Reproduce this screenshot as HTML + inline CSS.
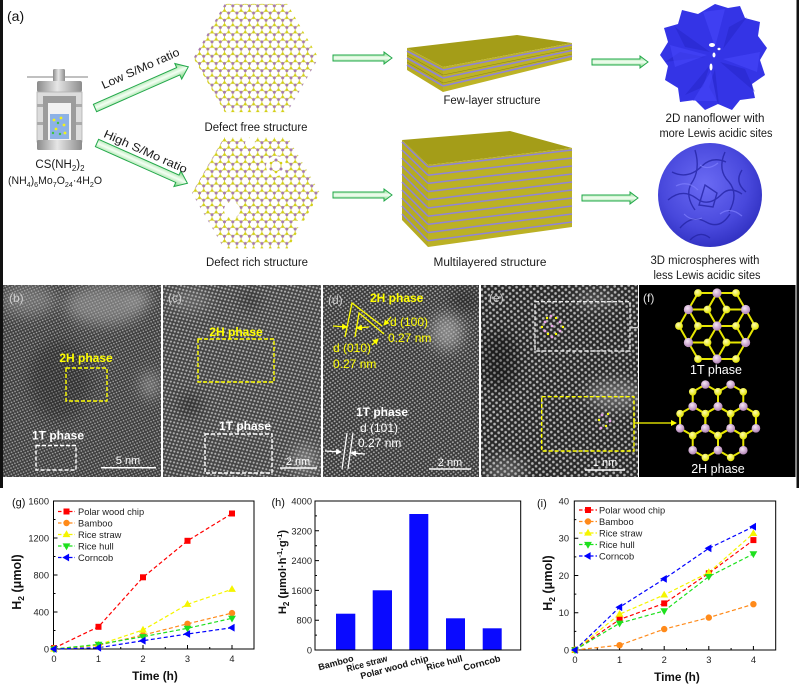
<!DOCTYPE html>
<html><head><meta charset="utf-8"><style>html,body{margin:0;padding:0;background:#fff}svg{display:block}</style></head>
<body>
<svg width="799" height="685" viewBox="0 0 799 685" xmlns="http://www.w3.org/2000/svg" xmlns:xlink="http://www.w3.org/1999/xlink" font-family="'Liberation Sans', Arial, sans-serif">
<defs>
  <pattern id="hc" width="8.314" height="14.4" patternUnits="userSpaceOnUse" x="0" y="1">
    <g stroke="#cdc83c" stroke-width="0.9">
      <line x1="4.157" y1="0" x2="4.157" y2="2.4"/>
      <line x1="4.157" y1="2.4" x2="0" y2="4.8"/>
      <line x1="4.157" y1="2.4" x2="8.314" y2="4.8"/>
      <line x1="0" y1="4.8" x2="0" y2="9.6"/>
      <line x1="8.314" y1="4.8" x2="8.314" y2="9.6"/>
      <line x1="0" y1="9.6" x2="4.157" y2="12"/>
      <line x1="8.314" y1="9.6" x2="4.157" y2="12"/>
      <line x1="4.157" y1="12" x2="4.157" y2="14.4"/>
    </g>
    <g fill="#d4d014"><circle cx="4.157" cy="2.4" r="1.3"/><circle cx="0" cy="9.6" r="1.3"/><circle cx="8.314" cy="9.6" r="1.3"/></g>
    <g fill="#a57aae"><circle cx="0" cy="4.8" r="1.5"/><circle cx="8.314" cy="4.8" r="1.5"/><circle cx="4.157" cy="12" r="1.5"/></g>
  </pattern>
  <linearGradient id="arr" x1="0" y1="0" x2="0" y2="1">
    <stop offset="0" stop-color="#7bd47e"/><stop offset="0.5" stop-color="#f4fff4"/><stop offset="1" stop-color="#6fcf73"/>
  </linearGradient>
  <linearGradient id="gm" x1="0" y1="0" x2="1" y2="0">
    <stop offset="0" stop-color="#8a8a8a"/><stop offset="0.45" stop-color="#e6e6e6"/><stop offset="1" stop-color="#8c8c8c"/>
  </linearGradient>
  <radialGradient id="sph" cx="0.45" cy="0.4" r="0.6">
    <stop offset="0" stop-color="#6b6bf4"/><stop offset="0.7" stop-color="#4848dc"/><stop offset="1" stop-color="#3333c4"/>
  </radialGradient>
  <radialGradient id="moG" cx="0.4" cy="0.35" r="0.65">
    <stop offset="0" stop-color="#f6e6f6"/><stop offset="1" stop-color="#b486b8"/>
  </radialGradient>
  <radialGradient id="sG" cx="0.4" cy="0.35" r="0.65">
    <stop offset="0" stop-color="#ffffb0"/><stop offset="1" stop-color="#e2e200"/>
  </radialGradient>
  <pattern id="pb" width="4.4" height="3.8" patternUnits="userSpaceOnUse" patternTransform="rotate(18)">
    <rect width="4.4" height="3.8" fill="#3e3e3e"/><circle cx="1.1" cy="0.95" r="0.85" fill="#a6a6a6"/><circle cx="3.3" cy="2.85" r="0.85" fill="#a6a6a6"/>
  </pattern>
  <pattern id="pc" width="5.4" height="4.7" patternUnits="userSpaceOnUse" patternTransform="rotate(-28)">
    <rect width="5.4" height="4.7" fill="#454545"/><circle cx="1.35" cy="1.2" r="1.05" fill="#b2b2b2"/><circle cx="4.05" cy="3.5" r="1.05" fill="#b2b2b2"/>
  </pattern>
  <pattern id="pd" width="4.8" height="4.2" patternUnits="userSpaceOnUse" patternTransform="rotate(8)">
    <rect width="4.8" height="4.2" fill="#3a3a3a"/><circle cx="1.2" cy="1.05" r="0.95" fill="#aaaaaa"/><circle cx="3.6" cy="3.15" r="0.95" fill="#aaaaaa"/>
  </pattern>
  <pattern id="pe" width="7" height="6" patternUnits="userSpaceOnUse" patternTransform="rotate(-4)">
    <rect width="7" height="6" fill="#2a2a2a"/><circle cx="1.75" cy="1.5" r="1.35" fill="#b4b4b4"/><circle cx="5.25" cy="4.5" r="1.35" fill="#b4b4b4"/>
  </pattern>
  <filter id="bl" x="-50%" y="-50%" width="200%" height="200%"><feGaussianBlur stdDeviation="7"/></filter>
  <clipPath id="cb"><rect x="3" y="285" width="158" height="192"/></clipPath>
  <clipPath id="cc"><rect x="163" y="285" width="158" height="192"/></clipPath>
  <clipPath id="cd"><rect x="323" y="285" width="156" height="192"/></clipPath>
  <clipPath id="ce"><rect x="481" y="285" width="157" height="192"/></clipPath>
  <marker id="ahy" markerWidth="6" markerHeight="6" refX="5" refY="3" orient="auto" markerUnits="userSpaceOnUse"><path d="M0,0 L6,3 L0,6Z" fill="#ffff00"/></marker>
  <marker id="ahw" markerWidth="6" markerHeight="6" refX="5" refY="3" orient="auto" markerUnits="userSpaceOnUse"><path d="M0,0 L6,3 L0,6Z" fill="#ffffff"/></marker>
  <marker id="ahg" markerWidth="7" markerHeight="7" refX="6" refY="3.5" orient="auto" markerUnits="userSpaceOnUse"><path d="M0,0 L7,3.5 L0,7Z" fill="#d0d0d0"/></marker>
  <path id="mUp" d="M0,-4.2 L3.9,2.6 L-3.9,2.6Z"/>
  <path id="mDn" d="M0,4.2 L3.9,-2.6 L-3.9,-2.6Z"/>
  <path id="mLf" d="M-4.2,0 L2.6,-3.9 L2.6,3.9Z"/>
  <rect id="mSq" x="-3" y="-3" width="6" height="6"/>
  <circle id="mCi" r="3.2"/>
  <polygon id="hxl" points="0,-14.6 12.64,-7.3 12.64,7.3 0,14.6 -12.64,7.3 -12.64,-7.3" fill="none" stroke="#e6e600" stroke-width="2"/>
  <g id="hxa">
    <circle cx="0" cy="-14.6" r="4.3" fill="url(#moG)"/><circle cx="12.64" cy="7.3" r="4.3" fill="url(#moG)"/><circle cx="-12.64" cy="7.3" r="4.3" fill="url(#moG)"/>
    <circle cx="12.64" cy="-7.3" r="3.8" fill="url(#sG)"/><circle cx="0" cy="14.6" r="3.8" fill="url(#sG)"/><circle cx="-12.64" cy="-7.3" r="3.8" fill="url(#sG)"/>
  </g>
</defs>

<rect width="799" height="685" fill="#fff"/>
<rect x="0" y="0" width="3" height="488" fill="#111"/>
<rect x="796.5" y="0" width="2.5" height="488" fill="#111"/>

<!-- ===== (a) ===== -->
<text x="7" y="21" font-size="14" fill="#111">(a)</text>

<!-- autoclave -->
<line x1="27" y1="77" x2="88" y2="77" stroke="#9a9a9a" stroke-width="1.3"/>
<rect x="53" y="69" width="12" height="13" rx="1.5" fill="url(#gm)"/>
<rect x="37" y="81" width="45" height="11" rx="2" fill="url(#gm)"/>
<rect x="37" y="92" width="45" height="50" fill="#dcdcdc" stroke="#b0b0b0" stroke-width="0.8"/>
<rect x="43" y="96" width="33" height="44" fill="#9c9c9c"/>
<rect x="37" y="104" width="6" height="3" fill="#aaa"/><rect x="76" y="104" width="6" height="3" fill="#aaa"/>
<rect x="37" y="122" width="6" height="3" fill="#aaa"/><rect x="76" y="122" width="6" height="3" fill="#aaa"/>
<rect x="48" y="103" width="23" height="37" fill="#f2f2f2"/>
<rect x="50" y="114" width="19" height="25" fill="#8db2e6"/>
<g fill="#f2f21a"><circle cx="54" cy="120" r="1.4"/><circle cx="61" cy="118" r="1.4"/><circle cx="64" cy="125" r="1.4"/><circle cx="56" cy="129" r="1.4"/><circle cx="65" cy="133" r="1.4"/></g>
<g fill="#3ec43e"><circle cx="58" cy="123" r="1.2"/><circle cx="53" cy="133" r="1.2"/><circle cx="60" cy="134" r="1.2"/></g>
<rect x="37" y="140" width="45" height="10" rx="1.5" fill="url(#gm)"/>
<text x="60" y="168" font-size="11.5" fill="#1a1a1a" text-anchor="middle">CS(NH<tspan font-size="8" dy="3">2</tspan><tspan dy="-3">)</tspan><tspan font-size="8" dy="3">2</tspan></text>
<text x="55" y="184" font-size="11" fill="#1a1a1a" text-anchor="middle" textLength="94" lengthAdjust="spacingAndGlyphs">(NH<tspan font-size="7.5" dy="3">4</tspan><tspan dy="-3">)</tspan><tspan font-size="7.5" dy="3">6</tspan><tspan dy="-3">Mo</tspan><tspan font-size="7.5" dy="3">7</tspan><tspan dy="-3">O</tspan><tspan font-size="7.5" dy="3">24</tspan><tspan dy="-3">·4H</tspan><tspan font-size="7.5" dy="3">2</tspan><tspan dy="-3">O</tspan></text>

<!-- big arrows -->
<g transform="translate(95,108) rotate(-23.8)">
  <path d="M0,-4 L91,-4 L91,-8.5 L102,0 L91,8.5 L91,4 L0,4 Z" fill="url(#arr)" stroke="#22a84a" stroke-width="1"/>
</g>
<g transform="translate(97,143) rotate(24)">
  <path d="M0,-4 L88,-4 L88,-8.5 L99,0 L88,8.5 L88,4 L0,4 Z" fill="url(#arr)" stroke="#22a84a" stroke-width="1"/>
</g>
<text transform="translate(142,72) rotate(-24)" font-size="11.5" fill="#1a1a1a" text-anchor="middle" textLength="84" lengthAdjust="spacingAndGlyphs">Low S/Mo ratio</text>
<text transform="translate(144,155) rotate(24)" font-size="11.5" fill="#1a1a1a" text-anchor="middle" textLength="90" lengthAdjust="spacingAndGlyphs">High S/Mo ratio</text>

<!-- hex lattices -->
<polygon points="318.5,58 287.25,3.9 224.75,3.9 193.5,58 224.75,112.1 287.25,112.1" fill="url(#hc)"/>
<text x="256" y="131" font-size="11.5" fill="#1a1a1a" text-anchor="middle" textLength="103" lengthAdjust="spacingAndGlyphs">Defect free structure</text>
<polygon points="320,193 288,137.6 224,137.6 192,193 224,248.4 288,248.4" fill="url(#hc)"/>
<g fill="#fff">
  <circle cx="276" cy="166" r="10"/><circle cx="232" cy="210" r="8"/><circle cx="250" cy="143" r="5"/><circle cx="300" cy="224" r="4"/>
</g>
<g fill="none" stroke="#cdc83c" stroke-width="0.9"><polygon points="276,160 281,163 281,169 276,172 271,169 271,163"/></g>
<g fill="#a57aae"><circle cx="276" cy="160" r="1.5"/><circle cx="281" cy="169" r="1.5"/><circle cx="271" cy="169" r="1.5"/></g>
<g fill="#d4d014"><circle cx="281" cy="163" r="1.3"/><circle cx="276" cy="172" r="1.3"/><circle cx="271" cy="163" r="1.3"/></g>
<text x="257" y="266" font-size="11.5" fill="#1a1a1a" text-anchor="middle" textLength="102" lengthAdjust="spacingAndGlyphs">Defect rich structure</text>

<!-- small arrows -->
<g fill="url(#arr)" stroke="#22a84a" stroke-width="1">
  <path d="M333,55 L384,55 L384,52 L392,58 L384,64 L384,61 L333,61 Z"/>
  <path d="M333,192 L384,192 L384,189 L392,195 L384,201 L384,198 L333,198 Z"/>
  <path d="M592,59 L640,59 L640,56 L648,62 L640,68 L640,65 L592,65 Z"/>
  <path d="M582,195 L630,195 L630,192 L638,198 L630,204 L630,201 L582,201 Z"/>
</g>

<!-- few-layer slab -->
<polygon points="407,48 517,35 572,43 443,67" fill="#a49d18"/>
<polygon points="407,48 443,67 443,92 407,70" fill="#b7ad22"/>
<polygon points="443,67 572,43 572,60 443,92" fill="#bdb326"/>
<g stroke="#8f84d8" stroke-width="1.6">
  <line x1="407" y1="51" x2="443" y2="70"/><line x1="443" y1="70" x2="572" y2="45"/>
  <line x1="407" y1="58" x2="443" y2="78"/><line x1="443" y1="78" x2="572" y2="50.5"/>
  <line x1="407" y1="65" x2="443" y2="86"/><line x1="443" y1="86" x2="572" y2="56"/>
</g>
<g stroke="#6e6a10" stroke-width="0.6" opacity="0.6">
  <line x1="407" y1="55" x2="443" y2="75"/><line x1="443" y1="75" x2="572" y2="48.5"/>
  <line x1="407" y1="62" x2="443" y2="83"/><line x1="443" y1="83" x2="572" y2="54"/>
</g>
<text x="492" y="104" font-size="11.5" fill="#1a1a1a" text-anchor="middle" textLength="97" lengthAdjust="spacingAndGlyphs">Few-layer structure</text>

<!-- multilayer slab -->
<polygon points="402,140 510,131 572,148 428,165" fill="#a49d18"/>
<polygon points="402,140 428,165 428,247 402,220" fill="#b5ab22"/>
<polygon points="428,165 572,148 572,227 428,247" fill="#bbb125"/>
<g stroke="#8f84d8" stroke-width="1.5">
  <line x1="402" y1="142" x2="428" y2="167"/><line x1="428" y1="167" x2="572" y2="150"/>
  <line x1="402" y1="150" x2="428" y2="175.2"/><line x1="428" y1="175.2" x2="572" y2="158"/>
  <line x1="402" y1="158" x2="428" y2="183.4"/><line x1="428" y1="183.4" x2="572" y2="166"/>
  <line x1="402" y1="166" x2="428" y2="191.6"/><line x1="428" y1="191.6" x2="572" y2="174"/>
  <line x1="402" y1="174" x2="428" y2="199.8"/><line x1="428" y1="199.8" x2="572" y2="182"/>
  <line x1="402" y1="182" x2="428" y2="208"/><line x1="428" y1="208" x2="572" y2="190"/>
  <line x1="402" y1="190" x2="428" y2="216.2"/><line x1="428" y1="216.2" x2="572" y2="198"/>
  <line x1="402" y1="198" x2="428" y2="224.4"/><line x1="428" y1="224.4" x2="572" y2="206"/>
  <line x1="402" y1="206" x2="428" y2="232.6"/><line x1="428" y1="232.6" x2="572" y2="214"/>
  <line x1="402" y1="214" x2="428" y2="240.8"/><line x1="428" y1="240.8" x2="572" y2="222"/>
</g>
<text x="490" y="266" font-size="11.5" fill="#1a1a1a" text-anchor="middle" textLength="113" lengthAdjust="spacingAndGlyphs">Multilayered structure</text>

<!-- nanoflower -->
<g transform="translate(715,57)">
  <path d="M0,-53 L13,-49 L25,-51 L30,-39 L45,-35 L43,-21 L52,-9 L45,3 L50,18 L37,27 L40,41 L25,43 L17,53 L3,47 L-10,53 L-20,43 L-35,45 L-37,31 L-50,23 L-47,9 L-55,-2 L-47,-15 L-51,-29 L-37,-33 L-33,-47 L-17,-43 Z" fill="#3434e6"/>
  <g fill="#2424c4" opacity="0.45">
    <path d="M-5,-5 L-40,-30 L-30,-10 Z"/>
    <path d="M5,5 L40,35 L30,12 Z"/>
    <path d="M-5,8 L-30,38 L-12,30 Z"/>
    <path d="M8,-8 L32,-40 L14,-30 Z"/>
    <path d="M0,12 L4,48 L-6,30 Z"/>
    <path d="M-10,0 L-50,5 L-35,-5 Z"/>
  </g>
  <g fill="#4a4aff" opacity="0.5">
    <path d="M-8,-2 L-45,-12 L-40,10 Z"/>
    <path d="M8,2 L45,-5 L42,15 Z"/>
    <path d="M0,-10 L-12,-45 L10,-48 Z"/>
    <path d="M-4,14 L-22,44 L2,44 Z"/>
  </g>
  <g fill="#ffffff">
    <ellipse cx="-3" cy="-12" rx="3" ry="2"/><ellipse cx="-1" cy="-2" rx="1.5" ry="2.5"/><ellipse cx="-4" cy="10" rx="1.5" ry="3.5"/><ellipse cx="4" cy="-8" rx="1.5" ry="1.2"/>
  </g>
</g>
<text x="715" y="122" font-size="11.5" fill="#1a1a1a" text-anchor="middle" textLength="99" lengthAdjust="spacingAndGlyphs">2D nanoflower with</text>
<text x="716" y="137" font-size="11.5" fill="#1a1a1a" text-anchor="middle" textLength="113" lengthAdjust="spacingAndGlyphs">more Lewis acidic sites</text>

<!-- microsphere -->
<circle cx="710" cy="195" r="52" fill="url(#sph)"/>
<g fill="none" stroke="#2525a6" stroke-width="1.4" opacity="0.8">
  <path d="M672,172 q16,8 30,-6 q10,-10 24,-4"/>
  <path d="M668,200 q14,-12 28,-2 q12,10 26,-4 q8,-8 20,0"/>
  <path d="M680,228 q12,-14 26,-6 q14,8 24,-8"/>
  <path d="M695,150 q6,20 -4,34 q-6,12 4,26"/>
  <path d="M725,152 q-8,18 4,30 q10,12 0,30"/>
  <path d="M690,240 q10,-10 20,-2"/>
  <path d="M742,170 q-8,12 4,22"/>
  <path d="M705,185 l12,8 l-4,14 l-14,-2 z"/>
</g>
<g fill="none" stroke="#8080ff" stroke-width="1.2" opacity="0.7">
  <path d="M676,186 q12,-6 22,4"/><path d="M720,214 q10,-8 22,2"/><path d="M700,165 q8,6 18,-2"/><path d="M684,214 q8,8 18,4"/>
</g>
<text x="705" y="264" font-size="11.5" fill="#1a1a1a" text-anchor="middle" textLength="109" lengthAdjust="spacingAndGlyphs">3D microspheres with</text>
<text x="707" y="279" font-size="11.5" fill="#1a1a1a" text-anchor="middle" textLength="107" lengthAdjust="spacingAndGlyphs">less Lewis acidic sites</text>

<!-- ===== TEM row ===== -->
<!-- (b) -->
<g clip-path="url(#cb)">
  <rect x="3" y="285" width="158" height="192" fill="url(#pb)"/>
  <g filter="url(#bl)" fill="#a8a8a8">
    <ellipse cx="28" cy="300" rx="28" ry="16" opacity="0.45"/>
    <ellipse cx="105" cy="305" rx="40" ry="20" opacity="0.55"/>
    <ellipse cx="150" cy="385" rx="9" ry="13" opacity="0.6"/>
    <ellipse cx="140" cy="298" rx="12" ry="10" opacity="0.5"/>
  </g>
  <g filter="url(#bl)" fill="#000"><ellipse cx="60" cy="380" rx="30" ry="40" opacity="0.2"/></g>
</g>
<text x="9" y="302" font-size="12" fill="#cfcfcf">(b)</text>
<text x="86" y="362" font-size="12" font-weight="bold" fill="#ffff00" text-anchor="middle">2H phase</text>
<rect x="66" y="368" width="41" height="33" fill="none" stroke="#ffff00" stroke-width="1.4" stroke-dasharray="4 2"/>
<text x="58" y="439.5" font-size="12" font-weight="bold" fill="#fff" text-anchor="middle">1T phase</text>
<rect x="36" y="445.5" width="40" height="24.5" fill="none" stroke="#fff" stroke-width="1.4" stroke-dasharray="4 2"/>
<line x1="101" y1="467.7" x2="156" y2="467.7" stroke="#fff" stroke-width="1.5"/>
<text x="128" y="464" font-size="11" fill="#fff" text-anchor="middle">5 nm</text>

<!-- (c) -->
<g clip-path="url(#cc)">
  <rect x="163" y="285" width="158" height="192" fill="url(#pc)"/>
  <g filter="url(#bl)" fill="#b0b0b0">
    <ellipse cx="305" cy="460" rx="12" ry="14" opacity="0.5"/>
    <ellipse cx="190" cy="300" rx="20" ry="10" opacity="0.3"/>
  </g>
  <g filter="url(#bl)" fill="#000"><ellipse cx="190" cy="405" rx="10" ry="10" opacity="0.35"/><ellipse cx="250" cy="300" rx="8" ry="8" opacity="0.3"/></g>
</g>
<text x="168" y="302" font-size="12" fill="#cfcfcf">(c)</text>
<text x="236" y="336" font-size="12" font-weight="bold" fill="#ffff00" text-anchor="middle">2H phase</text>
<rect x="198" y="339" width="76" height="43" fill="none" stroke="#ffff00" stroke-width="1.4" stroke-dasharray="4 2"/>
<text x="245" y="430" font-size="12" font-weight="bold" fill="#fff" text-anchor="middle">1T phase</text>
<rect x="205" y="434" width="67" height="39" fill="none" stroke="#fff" stroke-width="1.4" stroke-dasharray="4 2"/>
<line x1="280" y1="468" x2="317" y2="468" stroke="#fff" stroke-width="1.5"/>
<text x="298" y="465" font-size="11" fill="#fff" text-anchor="middle">2 nm</text>

<!-- (d) -->
<g clip-path="url(#cd)">
  <rect x="323" y="285" width="156" height="192" fill="url(#pd)"/>
  <g filter="url(#bl)" fill="#b8b8b8">
    <ellipse cx="447" cy="332" rx="16" ry="18" opacity="0.6"/>
  </g>
  <g filter="url(#bl)" fill="#000"><ellipse cx="465" cy="300" rx="15" ry="12" opacity="0.25"/></g>
</g>
<text x="328" y="304" font-size="12" fill="#cfcfcf">(d)</text>
<text x="370" y="302" font-size="12" font-weight="bold" fill="#ffff00">2H phase</text>
<g stroke="#ffff00" stroke-width="1.3" fill="none">
  <polyline points="345,337 352,303 382,326"/>
  <polyline points="355,337 359,313 384,334"/>
  <line x1="333" y1="326" x2="347" y2="327" marker-end="url(#ahy)"/>
  <line x1="369" y1="327" x2="357" y2="328" marker-end="url(#ahy)"/>
  <line x1="391" y1="317" x2="384" y2="325" marker-end="url(#ahy)"/>
  <line x1="372" y1="345" x2="378" y2="339" marker-end="url(#ahy)"/>
</g>
<text x="333" y="352" font-size="12" fill="#ffff00">d (010)</text>
<text x="333" y="368" font-size="12" fill="#ffff00">0.27 nm</text>
<text x="390" y="326" font-size="12" fill="#ffff00">d (100)</text>
<text x="388" y="342" font-size="12" fill="#ffff00">0.27 nm</text>
<text x="356" y="416" font-size="12" font-weight="bold" fill="#fff">1T phase</text>
<text x="360" y="432" font-size="12" fill="#fff">d (101)</text>
<text x="358" y="447" font-size="12" fill="#fff">0.27 nm</text>
<g stroke="#fff" stroke-width="1.2" fill="none">
  <line x1="342" y1="469" x2="347" y2="433"/>
  <line x1="348" y1="469" x2="353" y2="433"/>
  <line x1="325" y1="451" x2="341" y2="452" marker-end="url(#ahw)"/>
  <line x1="365" y1="454" x2="351" y2="453" marker-end="url(#ahw)"/>
</g>
<line x1="429" y1="469" x2="471" y2="469" stroke="#fff" stroke-width="1.5"/>
<text x="450" y="466" font-size="11" fill="#fff" text-anchor="middle">2 nm</text>

<!-- (e) -->
<g clip-path="url(#ce)">
  <rect x="481" y="285" width="157" height="192" fill="url(#pe)"/>
  <g filter="url(#bl)" fill="#b0b0b0">
    <ellipse cx="615" cy="395" rx="28" ry="14" opacity="0.45"/>
    <ellipse cx="505" cy="470" rx="20" ry="12" opacity="0.35"/>
    <ellipse cx="595" cy="300" rx="20" ry="8" opacity="0.3"/>
  </g>
  <g filter="url(#bl)" fill="#000"><ellipse cx="500" cy="360" rx="18" ry="30" opacity="0.3"/></g>
</g>
<text x="489" y="302" font-size="12" fill="#cfcfcf">(e)</text>
<rect x="535" y="301.7" width="95" height="49.3" fill="none" stroke="#e8e8e8" stroke-width="1.4" stroke-dasharray="4 2"/>
<g fill="#e6a4e6"><circle cx="551" cy="316" r="1.4"/><circle cx="545" cy="322" r="1.4"/><circle cx="545" cy="331" r="1.4"/><circle cx="552" cy="337" r="1.4"/><circle cx="560" cy="331" r="1.4"/><circle cx="560" cy="322" r="1.4"/><circle cx="552" cy="326" r="1.4"/></g>
<g fill="#ffff00"><circle cx="547" cy="318" r="1.2"/><circle cx="556" cy="318" r="1.2"/><circle cx="542" cy="327" r="1.2"/><circle cx="563" cy="327" r="1.2"/><circle cx="548" cy="334" r="1.2"/><circle cx="556" cy="334" r="1.2"/></g>
<rect x="541.7" y="396.7" width="92.3" height="54.3" fill="none" stroke="#ffff00" stroke-width="1.4" stroke-dasharray="4 2"/>
<g fill="#e6a4e6"><circle cx="602" cy="415" r="1.4"/><circle cx="610" cy="421" r="1.4"/><circle cx="601" cy="428" r="1.4"/></g>
<g fill="#ffff00"><circle cx="599" cy="420" r="1.2"/><circle cx="608" cy="414" r="1.2"/><circle cx="606" cy="426" r="1.2"/></g>
<line x1="585" y1="470" x2="625" y2="470" stroke="#fff" stroke-width="1.5"/>
<text x="605" y="466" font-size="11" fill="#fff" text-anchor="middle">1 nm</text>
<line x1="630" y1="327.7" x2="672" y2="327.7" stroke="#d0d0d0" stroke-width="1.3" marker-end="url(#ahg)"/>

<!-- (f) -->
<rect x="639" y="285" width="156.5" height="192" fill="#000"/>
<line x1="634" y1="423" x2="676" y2="423" stroke="#ffff00" stroke-width="1.3" marker-end="url(#ahy)"/>
<line x1="634" y1="418" x2="634" y2="428" stroke="#ffff00" stroke-width="1.3"/>
<text x="643" y="302" font-size="12" fill="#e0e0e0">(f)</text>
<!-- 1T -->
<g stroke="#e6e600" stroke-width="2">
  <line x1="717" y1="326" x2="736" y2="326"/><line x1="717" y1="326" x2="698" y2="326"/>
  <line x1="717" y1="326" x2="726.5" y2="342.5"/><line x1="717" y1="326" x2="707.5" y2="342.5"/>
  <line x1="717" y1="326" x2="726.5" y2="309.5"/><line x1="717" y1="326" x2="707.5" y2="309.5"/>
  <line x1="717" y1="293" x2="736" y2="293"/><line x1="717" y1="293" x2="698" y2="293"/>
  <line x1="717" y1="293" x2="726.5" y2="309.5"/><line x1="717" y1="293" x2="707.5" y2="309.5"/>
  <line x1="717" y1="359" x2="736" y2="359"/><line x1="717" y1="359" x2="698" y2="359"/>
  <line x1="717" y1="359" x2="726.5" y2="342.5"/><line x1="717" y1="359" x2="707.5" y2="342.5"/>
  <line x1="688.4" y1="309.5" x2="707.5" y2="309.5"/><line x1="688.4" y1="309.5" x2="698" y2="293"/>
  <line x1="688.4" y1="309.5" x2="698" y2="326"/><line x1="688.4" y1="309.5" x2="679" y2="326"/>
  <line x1="745.6" y1="309.5" x2="726.5" y2="309.5"/><line x1="745.6" y1="309.5" x2="736" y2="293"/>
  <line x1="745.6" y1="309.5" x2="736" y2="326"/><line x1="745.6" y1="309.5" x2="755" y2="326"/>
  <line x1="688.4" y1="342.5" x2="707.5" y2="342.5"/><line x1="688.4" y1="342.5" x2="698" y2="359"/>
  <line x1="688.4" y1="342.5" x2="698" y2="326"/><line x1="688.4" y1="342.5" x2="679" y2="326"/>
  <line x1="745.6" y1="342.5" x2="726.5" y2="342.5"/><line x1="745.6" y1="342.5" x2="736" y2="359"/>
  <line x1="745.6" y1="342.5" x2="736" y2="326"/><line x1="745.6" y1="342.5" x2="755" y2="326"/>
</g>
<g fill="url(#sG)">
  <circle cx="736" cy="326" r="3.9"/><circle cx="698" cy="326" r="3.9"/><circle cx="726.5" cy="342.5" r="3.9"/><circle cx="707.5" cy="342.5" r="3.9"/>
  <circle cx="726.5" cy="309.5" r="3.9"/><circle cx="707.5" cy="309.5" r="3.9"/><circle cx="736" cy="293" r="3.9"/><circle cx="698" cy="293" r="3.9"/>
  <circle cx="736" cy="359" r="3.9"/><circle cx="698" cy="359" r="3.9"/><circle cx="755" cy="326" r="3.9"/><circle cx="679" cy="326" r="3.9"/>
</g>
<g fill="url(#moG)">
  <circle cx="717" cy="326" r="4.6"/><circle cx="717" cy="293" r="4.6"/><circle cx="717" cy="359" r="4.6"/>
  <circle cx="688.4" cy="309.5" r="4.6"/><circle cx="745.6" cy="309.5" r="4.6"/><circle cx="688.4" cy="342.5" r="4.6"/><circle cx="745.6" cy="342.5" r="4.6"/>
</g>
<text x="716" y="374" font-size="12.5" fill="#fff" text-anchor="middle">1T phase</text>
<!-- 2H -->
<g transform="translate(718,421)">
  <use xlink:href="#hxl" x="0" y="0"/><use xlink:href="#hxl" x="25.3" y="0"/><use xlink:href="#hxl" x="-25.3" y="0"/>
  <use xlink:href="#hxl" x="12.64" y="-21.9"/><use xlink:href="#hxl" x="-12.64" y="-21.9"/>
  <use xlink:href="#hxl" x="12.64" y="21.9"/><use xlink:href="#hxl" x="-12.64" y="21.9"/>
  <use xlink:href="#hxa" x="0" y="0"/><use xlink:href="#hxa" x="25.3" y="0"/><use xlink:href="#hxa" x="-25.3" y="0"/>
  <use xlink:href="#hxa" x="12.64" y="-21.9"/><use xlink:href="#hxa" x="-12.64" y="-21.9"/>
  <use xlink:href="#hxa" x="12.64" y="21.9"/><use xlink:href="#hxa" x="-12.64" y="21.9"/>
</g>
<text x="718" y="473" font-size="12.5" fill="#fff" text-anchor="middle">2H phase</text>

<!-- ===== (g) ===== -->
<g font-size="9.3" fill="#222">
  <text x="12" y="506" font-size="11" fill="#111">(g)</text>
  <rect x="53.5" y="501" width="200.5" height="148" fill="none" stroke="#000" stroke-width="1"/>
  <path d="M54,649v-4 M98.5,649v-4 M143,649v-4 M187.5,649v-4 M232,649v-4 M76.25,649v-2 M120.75,649v-2 M165.25,649v-2 M209.75,649v-2 M53.5,612h4 M53.5,575h4 M53.5,538h4 M53.5,630.5h2 M53.5,593.5h2 M53.5,556.5h2 M53.5,519.5h2" stroke="#000" stroke-width="1"/>
  <g text-anchor="end"><text x="49" y="652.5">0</text><text x="49" y="615.5">400</text><text x="49" y="578.5">800</text><text x="49" y="541.5">1200</text><text x="49" y="504.5">1600</text></g>
  <g text-anchor="middle"><text x="54" y="662">0</text><text x="98.5" y="662">1</text><text x="143" y="662">2</text><text x="187.5" y="662">3</text><text x="232" y="662">4</text></g>
  <text x="155" y="680" font-size="11.8" font-weight="bold" fill="#111" text-anchor="middle">Time (h)</text>
  <text transform="translate(21,582) rotate(-90)" text-anchor="middle" font-size="12.5" font-weight="bold" fill="#111">H<tspan font-size="8.5" dy="3">2</tspan><tspan dy="-3"> (μmol)</tspan></text>
</g>
<g fill="none" stroke-width="1.2" stroke-dasharray="4 2.5">
  <polyline points="54,648.1 98.5,626.8 143,577.3 187.5,540.8 232,513.5" stroke="#ff0000"/>
  <polyline points="54,649 98.5,645.3 143,635.1 187.5,623.8 232,613.1" stroke="#ff8a1a"/>
  <polyline points="54,649 98.5,644.8 143,630 187.5,604.3 232,589.3" stroke="#f5f500"/>
  <polyline points="54,649 98.5,644.4 143,636.7 187.5,628.3 232,618.3" stroke="#1ee01e"/>
  <polyline points="54,649 98.5,647.7 143,640.7 187.5,634 232,627.7" stroke="#0000ff"/>
</g>
<g fill="#ff0000"><use xlink:href="#mSq" x="54" y="648.1"/><use xlink:href="#mSq" x="98.5" y="626.8"/><use xlink:href="#mSq" x="143" y="577.3"/><use xlink:href="#mSq" x="187.5" y="540.8"/><use xlink:href="#mSq" x="232" y="513.5"/></g>
<g fill="#ff8a1a"><use xlink:href="#mCi" x="54" y="649"/><use xlink:href="#mCi" x="98.5" y="645.3"/><use xlink:href="#mCi" x="143" y="635.1"/><use xlink:href="#mCi" x="187.5" y="623.8"/><use xlink:href="#mCi" x="232" y="613.1"/></g>
<g fill="#f5f500"><use xlink:href="#mUp" x="54" y="649"/><use xlink:href="#mUp" x="98.5" y="644.8"/><use xlink:href="#mUp" x="143" y="630"/><use xlink:href="#mUp" x="187.5" y="604.3"/><use xlink:href="#mUp" x="232" y="589.3"/></g>
<g fill="#1ee01e"><use xlink:href="#mDn" x="54" y="649"/><use xlink:href="#mDn" x="98.5" y="644.4"/><use xlink:href="#mDn" x="143" y="636.7"/><use xlink:href="#mDn" x="187.5" y="628.3"/><use xlink:href="#mDn" x="232" y="618.3"/></g>
<g fill="#0000ff"><use xlink:href="#mLf" x="54" y="649"/><use xlink:href="#mLf" x="98.5" y="647.7"/><use xlink:href="#mLf" x="143" y="640.7"/><use xlink:href="#mLf" x="187.5" y="634"/><use xlink:href="#mLf" x="232" y="627.7"/></g>
<!-- legend g -->
<g stroke-width="1.2" stroke-dasharray="3.5 2">
  <line x1="58" y1="511.5" x2="75" y2="511.5" stroke="#ff0000"/>
  <line x1="58" y1="523" x2="75" y2="523" stroke="#ff8a1a"/>
  <line x1="58" y1="534.5" x2="75" y2="534.5" stroke="#f5f500"/>
  <line x1="58" y1="546" x2="75" y2="546" stroke="#1ee01e"/>
  <line x1="58" y1="557.5" x2="75" y2="557.5" stroke="#0000ff"/>
</g>
<use xlink:href="#mSq" x="66.5" y="511.5" fill="#ff0000"/>
<use xlink:href="#mCi" x="66.5" y="523" fill="#ff8a1a"/>
<use xlink:href="#mUp" x="66.5" y="534.5" fill="#f5f500"/>
<use xlink:href="#mDn" x="66.5" y="546" fill="#1ee01e"/>
<use xlink:href="#mLf" x="66.5" y="557.5" fill="#0000ff"/>
<g font-size="9.3" fill="#222">
  <text x="78" y="514.8">Polar wood chip</text><text x="78" y="526.3">Bamboo</text><text x="78" y="537.8">Rice straw</text><text x="78" y="549.3">Rice hull</text><text x="78" y="560.8">Corncob</text>
</g>

<!-- ===== (h) ===== -->
<g font-size="9.3" fill="#222">
  <text x="271.5" y="506" font-size="11" fill="#111">(h)</text>
  <g fill="#0a0aff">
    <rect x="336" y="613.7" width="19.3" height="36.3"/>
    <rect x="372.7" y="590.3" width="19.3" height="59.7"/>
    <rect x="409.3" y="514" width="19" height="136"/>
    <rect x="446" y="618.3" width="19" height="31.7"/>
    <rect x="482.7" y="628.3" width="19" height="21.7"/>
  </g>
  <rect x="315" y="501" width="205.7" height="149" fill="none" stroke="#000" stroke-width="1"/>
  <path d="M315,620.2h4 M315,590.4h4 M315,560.6h4 M315,530.8h4 M315,635.1h2 M315,605.3h2 M315,575.5h2 M315,545.7h2 M315,515.9h2" stroke="#000" stroke-width="1"/>
  <g text-anchor="end"><text x="312" y="653.5">0</text><text x="312" y="623.7">800</text><text x="312" y="593.9">1600</text><text x="312" y="564.1">2400</text><text x="312" y="534.3">3200</text><text x="312" y="504.5">4000</text></g>
  <g font-weight="bold" font-size="9" fill="#111" text-anchor="end">
    <text transform="translate(354,661) rotate(-15)" textLength="36" lengthAdjust="spacingAndGlyphs">Bamboo</text>
    <text transform="translate(388,661) rotate(-15)" textLength="42" lengthAdjust="spacingAndGlyphs">Rice straw</text>
    <text transform="translate(429,661) rotate(-15)" textLength="70" lengthAdjust="spacingAndGlyphs">Polar wood chip</text>
    <text transform="translate(463,661) rotate(-15)" textLength="37" lengthAdjust="spacingAndGlyphs">Rice hull</text>
    <text transform="translate(501,661) rotate(-15)" textLength="38" lengthAdjust="spacingAndGlyphs">Corncob</text>
  </g>
  <text transform="translate(286,572) rotate(-90)" text-anchor="middle" font-size="11.2" font-weight="bold" fill="#111">H<tspan font-size="8" dy="3">2</tspan><tspan dy="-3"> (μmol·h</tspan><tspan font-size="7.5" dy="-4">-1</tspan><tspan dy="4">·g</tspan><tspan font-size="7.5" dy="-4">-1</tspan><tspan dy="4">)</tspan></text>
</g>

<!-- ===== (i) ===== -->
<g font-size="9.3" fill="#222">
  <text x="537" y="507" font-size="11" fill="#111">(i)</text>
  <rect x="574.3" y="501" width="201.4" height="149" fill="none" stroke="#000" stroke-width="1"/>
  <path d="M575,650v-4 M619.6,650v-4 M664.2,650v-4 M708.8,650v-4 M753.4,650v-4 M597.3,650v-2 M641.9,650v-2 M686.5,650v-2 M731.1,650v-2 M574.3,612.75h4 M574.3,575.5h4 M574.3,538.25h4 M574.3,631.4h2 M574.3,594.1h2 M574.3,556.9h2 M574.3,519.6h2" stroke="#000" stroke-width="1"/>
  <g text-anchor="end"><text x="569" y="653.5">0</text><text x="569" y="616.2">10</text><text x="569" y="579">20</text><text x="569" y="541.7">30</text><text x="569" y="504.5">40</text></g>
  <g text-anchor="middle"><text x="575" y="663">0</text><text x="619.6" y="663">1</text><text x="664.2" y="663">2</text><text x="708.8" y="663">3</text><text x="753.4" y="663">4</text></g>
  <text x="677" y="681" font-size="11.8" font-weight="bold" fill="#111" text-anchor="middle">Time (h)</text>
  <text transform="translate(552,583) rotate(-90)" text-anchor="middle" font-size="12.5" font-weight="bold" fill="#111">H<tspan font-size="8.5" dy="3">2</tspan><tspan dy="-3"> (μmol)</tspan></text>
</g>
<g fill="none" stroke-width="1.2" stroke-dasharray="4 2.5">
  <polyline points="575,650 619.6,619.5 664.2,603.4 708.8,573.3 753.4,540.1" stroke="#ff0000"/>
  <polyline points="575,650 619.6,645.2 664.2,629.1 708.8,617.6 753.4,604.2" stroke="#ff8a1a"/>
  <polyline points="575,650 619.6,614.2 664.2,594.9 708.8,572.5 753.4,533.4" stroke="#f5f500"/>
  <polyline points="575,650 619.6,623.2 664.2,610.9 708.8,576.6 753.4,553.9" stroke="#1ee01e"/>
  <polyline points="575,650 619.6,607.2 664.2,578.9 708.8,548.3 753.4,526.7" stroke="#0000ff"/>
</g>
<g fill="#ff0000"><use xlink:href="#mSq" x="575" y="650"/><use xlink:href="#mSq" x="619.6" y="619.5"/><use xlink:href="#mSq" x="664.2" y="603.4"/><use xlink:href="#mSq" x="708.8" y="573.3"/><use xlink:href="#mSq" x="753.4" y="540.1"/></g>
<g fill="#ff8a1a"><use xlink:href="#mCi" x="575" y="650"/><use xlink:href="#mCi" x="619.6" y="645.2"/><use xlink:href="#mCi" x="664.2" y="629.1"/><use xlink:href="#mCi" x="708.8" y="617.6"/><use xlink:href="#mCi" x="753.4" y="604.2"/></g>
<g fill="#f5f500"><use xlink:href="#mUp" x="575" y="650"/><use xlink:href="#mUp" x="619.6" y="614.2"/><use xlink:href="#mUp" x="664.2" y="594.9"/><use xlink:href="#mUp" x="708.8" y="572.5"/><use xlink:href="#mUp" x="753.4" y="533.4"/></g>
<g fill="#1ee01e"><use xlink:href="#mDn" x="575" y="650"/><use xlink:href="#mDn" x="619.6" y="623.2"/><use xlink:href="#mDn" x="664.2" y="610.9"/><use xlink:href="#mDn" x="708.8" y="576.6"/><use xlink:href="#mDn" x="753.4" y="553.9"/></g>
<g fill="#0000ff"><use xlink:href="#mLf" x="575" y="650"/><use xlink:href="#mLf" x="619.6" y="607.2"/><use xlink:href="#mLf" x="664.2" y="578.9"/><use xlink:href="#mLf" x="708.8" y="548.3"/><use xlink:href="#mLf" x="753.4" y="526.7"/></g>
<!-- legend i -->
<g stroke-width="1.2" stroke-dasharray="3.5 2">
  <line x1="579" y1="510" x2="597" y2="510" stroke="#ff0000"/>
  <line x1="579" y1="521.5" x2="597" y2="521.5" stroke="#ff8a1a"/>
  <line x1="579" y1="533" x2="597" y2="533" stroke="#f5f500"/>
  <line x1="579" y1="544.5" x2="597" y2="544.5" stroke="#1ee01e"/>
  <line x1="579" y1="556" x2="597" y2="556" stroke="#0000ff"/>
</g>
<use xlink:href="#mSq" x="588" y="510" fill="#ff0000"/>
<use xlink:href="#mCi" x="588" y="521.5" fill="#ff8a1a"/>
<use xlink:href="#mUp" x="588" y="533" fill="#f5f500"/>
<use xlink:href="#mDn" x="588" y="544.5" fill="#1ee01e"/>
<use xlink:href="#mLf" x="588" y="556" fill="#0000ff"/>
<g font-size="9.3" fill="#222">
  <text x="599" y="513.3">Polar wood chip</text><text x="599" y="524.8">Bamboo</text><text x="599" y="536.3">Rice straw</text><text x="599" y="547.8">Rice hull</text><text x="599" y="559.3">Corncob</text>
</g>
</svg>
</body></html>
